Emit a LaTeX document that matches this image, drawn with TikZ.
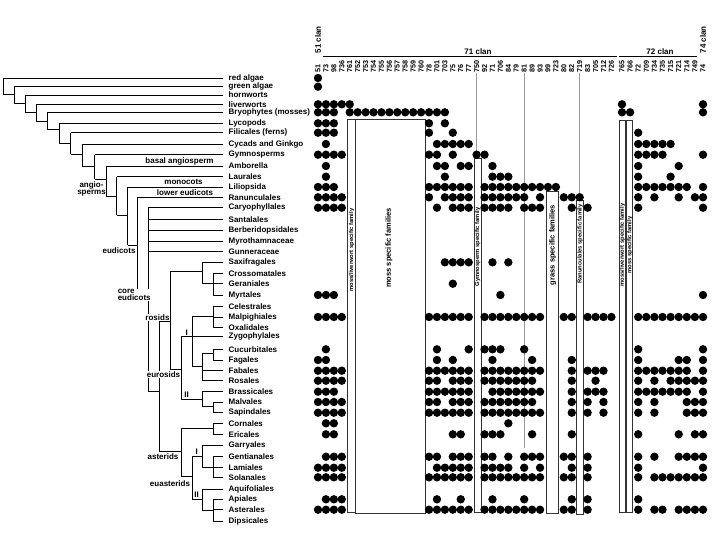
\documentclass[tikz,border=0pt]{standalone}
\usepackage{fontspec}
\setmainfont{Liberation Sans}
\begin{document}
\begin{tikzpicture}[x=1pt,y=-1pt,
  treeline/.style={line width=0.75pt, black},
  leaflab/.style={anchor=west, inner sep=0pt, font=\fontsize{8}{9}\selectfont\bfseries},
  cladelab/.style={inner sep=0.6pt, font=\fontsize{8}{8.6}\selectfont\bfseries, fill=white, align=center},
  toplab/.style={inner sep=0pt, anchor=base, font=\fontsize{8}{9}\selectfont\bfseries},
  collab/.style={rotate=90, anchor=west, inner sep=0pt, font=\fontsize{7.2}{8}\selectfont\bfseries},
  famframe/.style={draw=black!80, line width=0.6pt, fill=white},
  famlab/.style={rotate=90, inner sep=0pt, font=\fontsize{5.8}{6}\selectfont\bfseries},
  bigfamlab/.style={rotate=90, inner sep=0pt, font=\fontsize{7.5}{8}\selectfont\bfseries},
  guide/.style={black!40, line width=0.6pt},
  clanline/.style={line width=0.9pt, black}]
\useasboundingbox (0,0) rectangle (720,540);
\fill[white] (0,0) rectangle (720,540);

% ---------- leaves ----------
\foreach \i/\yy/\nm in {
 0/78/{red algae},1/86.7/{green algae},2/95/{hornworts},3/104.3/{liverworts},
 4/112.3/{Bryophytes (mosses)},5/123.3/{Lycopods},6/132.7/{Filicales (ferns)},
 7/144/{Cycads and Ginkgo},8/154.7/{Gymnosperms},9/166/{Amborella},
 10/176.7/{Laurales},11/187/{Liliopsida},12/197.3/{Ranunculales},
 13/207.7/{Caryophyllales},14/219.3/{Santalales},15/230/{Berberidopsidales},
 16/241/{Myrothamnaceae},17/251.3/{Gunneraceae},18/262.3/{Saxifragales},
 19/273.3/{Crossomatales},20/283.7/{Geraniales},21/295/{Myrtales},
 22/306.7/{Celestrales},23/317/{Malpighiales},24/327.7/{Oxalidales},
 25/336.7/{Zygophylales},26/349.3/{Cucurbitales},27/360/{Fagales},
 28/370.7/{Fabales},29/380.7/{Rosales},30/391.7/{Brassicales},
 31/402/{Malvales},32/412.7/{Sapindales},33/423.3/{Cornales},
 34/434.3/{Ericales},35/445.3/{Garryales},36/456.7/{Gentianales},
 37/467.7/{Lamiales},38/477.3/{Solanales},39/489/{Aquifoliales},
 40/499.3/{Apiales},41/509.7/{Asterales},42/521.3/{Dipsicales}}
{
  \coordinate (end\i) at (223,\yy);
  \node[leaflab] (leaf\i) at (228.5,\yy) {\nm};
}

% ---------- tree ----------
\draw[treeline]
 (3.3,78)--(3.3,94.7) (3.3,78)--(end0) (3.3,94.7)--(14,94.7)
 (14,86.7)--(14,103.3) (14,86.7)--(end1) (14,103.3)--(25,103.3)
 (25,95)--(25,112.3) (25,95)--(end2) (25,112.3)--(36,112.3)
 (36,104.3)--(36,121) (36,104.3)--(end3) (36,121)--(47,121)
 (47,112.3)--(47,129) (47,112.3)--(end4) (47,129)--(59.3,129)
 (59.3,123.3)--(59.3,143.3) (59.3,123.3)--(end5) (59.3,143.3)--(70.7,143.3)
 (70.7,132.7)--(70.7,154.3) (70.7,132.7)--(end6) (70.7,154.3)--(82.7,154.3)
 (82.7,144)--(82.7,166.7) (82.7,144)--(end7) (82.7,166.7)--(94.7,166.7)
 (94.7,154.7)--(94.7,179.3) (94.7,154.7)--(end8) (94.7,179.3)--(106,179.3)
 (106,166)--(106,196.7) (106,166)--(end9) (106,196.7)--(116.7,196.7)
 (116.7,176.7)--(116.7,215) (116.7,176.7)--(end10) (116.7,215)--(127.7,215)
 (127.7,187)--(127.7,245) (127.7,187)--(end11) (127.7,245)--(137.7,245)
 (137.7,197.3)--(137.7,292.7) (137.7,197.3)--(end12) (137.7,292.7)--(148,292.7)
 (148,207.7)--(148,391.7) (148,207.7)--(end13) (148,219.3)--(end14)
 (148,230)--(end15) (148,241)--(end16) (148,251.3)--(end17) (148,391.7)--(159,391.7)
 (159,321.7)--(159,451) (159,321.7)--(170,321.7) (159,451)--(181,451)
 (170,271.7)--(170,369) (170,271.7)--(202,271.7) (170,369)--(181,369)
 (202,262.3)--(202,283.7) (202,262.3)--(end18) (202,283.7)--(213,283.7)
 (213,273.3)--(213,295) (213,273.3)--(end19) (213,283.7)--(end20) (213,295)--(end21)
 (181,336.7)--(181,399.3) (181,336.7)--(end25) (181,399.3)--(202,399.3)
 (192,316.7)--(192,366) (192,316.7)--(213,316.7) (192,366)--(202,366)
 (213,306.7)--(213,327.7) (213,306.7)--(end22) (213,317)--(end23) (213,327.7)--(end24)
 (202,353.3)--(202,380.7) (202,353.3)--(213,353.3) (202,370.7)--(end28) (202,380.7)--(end29)
 (213,349.3)--(213,360) (213,349.3)--(end26) (213,360)--(end27)
 (202,391.7)--(202,406.7) (202,391.7)--(end30) (202,406.7)--(213,406.7)
 (213,402)--(213,412.7) (213,402)--(end31) (213,412.7)--(end32)
 (181,428.3)--(181,476.7) (181,428.3)--(213,428.3) (181,476.7)--(192,476.7)
 (213,423.3)--(213,434.3) (213,423.3)--(end33) (213,434.3)--(end34)
 (192,456)--(192,499.3) (192,456)--(202,456) (192,499.3)--(202,499.3)
 (202,445.3)--(202,467.3) (202,445.3)--(end35) (202,467.3)--(213,467.3)
 (213,456.7)--(213,477.3) (213,456.7)--(end36) (213,467.7)--(end37) (213,477.3)--(end38)
 (202,489)--(202,510) (202,489)--(end39) (202,510)--(213,510)
 (213,499.3)--(213,521.3) (213,499.3)--(end40) (213,509.7)--(end41) (213,521.3)--(end42);

% ---------- clade labels ----------
\node[toplab] (cbasal) at (179.5,164) {basal angiosperm};
\node[toplab] (cmono) at (183.5,185) {monocots};
\node[toplab] (clow) at (185,195.3) {lower eudicots};
\node[cladelab] (cangio) at (91.5,189) {angio-\\[-1.5pt]sperms};
\node[cladelab] (ceud) at (119,250.7) {eudicots};
\node[cladelab,align=left,anchor=west] (ccore) at (117,295) {core\\[-1.5pt]eudicots};
\node[cladelab] (cros) at (157.5,317.7) {rosids};
\node[cladelab,fill=none] (crI) at (186.7,333) {I};
\node[cladelab] (ceuros) at (163.5,374.3) {eurosids};
\node[cladelab,fill=none] (crII) at (186.7,395) {II};
\node[cladelab] (cast) at (163,456.7) {asterids};
\node[cladelab,fill=none] (caI) at (196.7,451.5) {I};
\node[cladelab] (ceuast) at (170,483.3) {euasterids};
\node[cladelab,fill=none] (caII) at (196.7,494.5) {II};

% ---------- header ----------
\foreach \c/\t in {0/51,1/73,2/98,3/736,4/761,5/752,6/753,7/754,8/755,9/756,
 10/757,11/758,12/759,13/760,14/78,15/701,16/703,17/75,18/76,19/77,20/750,
 21/92,22/71,23/706,24/84,25/79,26/81,27/89,28/93,29/99,30/723,31/80,32/82,
 33/719,34/83,35/705,36/712,37/726,38/765,39/766,40/72,41/709,42/734,43/735,
 44/715,45/721,46/714,47/749,48/74}
{
  \pgfmathsetmacro\xx{\c<38 ? 318+7.93*\c : 622+8.1*(\c-38)}
  \coordinate (col\c) at (\xx,72.5);
  \node[collab] (num\c) at (col\c) {\t};
}
\coordinate (c71a) at (323,56.7);
\coordinate (c71b) at (616.5,56.7);
\coordinate (c72a) at (619,56.7);
\coordinate (c72b) at (697,56.7);
\draw[clanline] (c71a) -- (c71b);
\draw[clanline] (c72a) -- (c72b);
\node[toplab] (clan71) at (478,54.5) {71 clan};
\node[toplab] (clan72) at (660,54.5) {72 clan};
\node[collab,font=\fontsize{8}{9}\selectfont\bfseries] (clan51) at (318,53.5) {51 clan};
\node[collab,font=\fontsize{8}{9}\selectfont\bfseries] (clan74) at (703,53.5) {74 clan};

% ---------- guide lines ----------
\draw[guide] (476.6,73) -- (476.6,158.3);
\draw[guide] (524.2,73) -- (524.2,448);
\draw[guide] (579.7,73) -- (579.7,200);

% ---------- family boxes ----------
\draw[famframe] (347.7,119.5) rectangle (355,512.5);
\draw[famframe] (355,119.5) rectangle (425,513.3);
\draw[famframe] (474,158.3) rectangle (481,512.7);
\draw[famframe] (546.7,191.7) rectangle (558.7,513.3);
\draw[famframe] (576.7,200) rectangle (583.3,514.3);
\draw[famframe] (619.3,120) rectangle (625.3,512.7);
\draw[famframe] (626.7,120) rectangle (632.7,512.7);
\node[famlab] (fA) at (351.5,250) {moss/liverwort specific family};
\node[bigfamlab] (fB) at (389,248) {moss specific families};
\node[famlab] (fC) at (477.6,247) {Gymnosperm specific family};
\node[bigfamlab] (fD) at (552.8,245) {grass specific families};
\node[famlab] (fE) at (580,244) {Ranunculales specific family};
\node[famlab] (fF) at (622.4,245) {moss/liverwort specific family};
\node[famlab] (fG) at (629.8,245) {moss specific family};

% ---------- dots ----------
\foreach \yy/\cl in {
 78/{0},
 86.7/{0},
 104.3/{0,1,2,3,4,38,48},
 112.3/{0,1,2,4,5,6,7,8,9,10,11,12,13,14,15,16,38,39,48},
 123.3/{0,1,2,14,16},
 132.7/{0,1,2,14,17,40},
 144/{1,15,16,17,18,19,40,41,42,43,44},
 154.7/{0,1,2,3,14,15,17,20,21,40,41,42,43,48},
 166/{1,15,16,18,19,22,40,45},
 176.7/{1,16,22,23,24,40,44},
 187/{0,1,2,14,15,16,17,18,19,21,22,23,24,25,26,27,28,29,30,40,41,42,43,44,45,46,48},
 197.3/{0,1,2,3,14,16,17,18,19,21,22,23,24,25,26,28,31,32,33,40,42,45,47,48},
 207.7/{0,1,2,3,15,17,18,19,21,22,23,24,26,27,28,32,34,40,48},
 262.3/{16,17,18,19,22,24},
 283.7/{17},
 295/{0,1,2,23,48},
 317/{0,1,2,3,14,15,16,17,18,19,21,22,23,24,25,26,27,28,31,32,34,35,36,37,40,41,42,43,44,45,46,47,48},
 349.3/{1,15,19,21,22,23,26,40,48},
 360/{0,1,15,17,22,27,32,40,45,46,48},
 370.7/{0,1,2,3,14,15,16,17,18,19,21,22,23,24,25,26,27,28,32,34,35,36,40,41,42,43,44,45,46,48},
 380.7/{0,1,2,3,14,15,17,18,19,21,22,23,24,25,26,27,32,35,40,42,44,45,46,47,48},
 391.7/{0,1,2,14,15,16,17,18,19,22,23,24,25,26,27,28,32,34,35,36,40,41,42,43,44,45,46,48},
 402/{0,1,2,3,14,15,17,18,19,21,22,23,24,25,26,27,32,34,36,40,42,46,47,48},
 412.7/{0,1,2,3,14,15,16,17,18,19,21,22,23,24,25,26,27,28,32,34,36,40,42,46,47,48},
 423.3/{1,2,24},
 434.3/{1,2,17,18,21,22,23,27,32,40,45,47,48},
 456.7/{1,2,3,14,15,17,18,19,21,22,24,26,27,28,31,32,34,40,42,45,46,47,48},
 467.7/{0,1,2,3,15,16,17,18,19,21,22,23,24,26,28,32,34,40,48},
 477.3/{0,1,2,3,14,15,16,17,18,19,21,22,23,24,25,26,27,28,31,32,34,40,42,43,44,45,46,47,48},
 499.3/{1,2,3,15,18,22,26,32,34,40},
 509.7/{0,1,2,3,14,15,16,17,18,19,21,22,23,24,25,26,27,28,31,32,34,40,42,43,45,46,47,48}}
{
  \foreach \c in \cl {
    \pgfmathsetmacro\xx{\c<38 ? 318+7.93*\c : 622+8.1*(\c-38)}
    \fill[black] (\xx,\yy) circle[radius=4.2];
  }
}
\end{tikzpicture}
\end{document}
